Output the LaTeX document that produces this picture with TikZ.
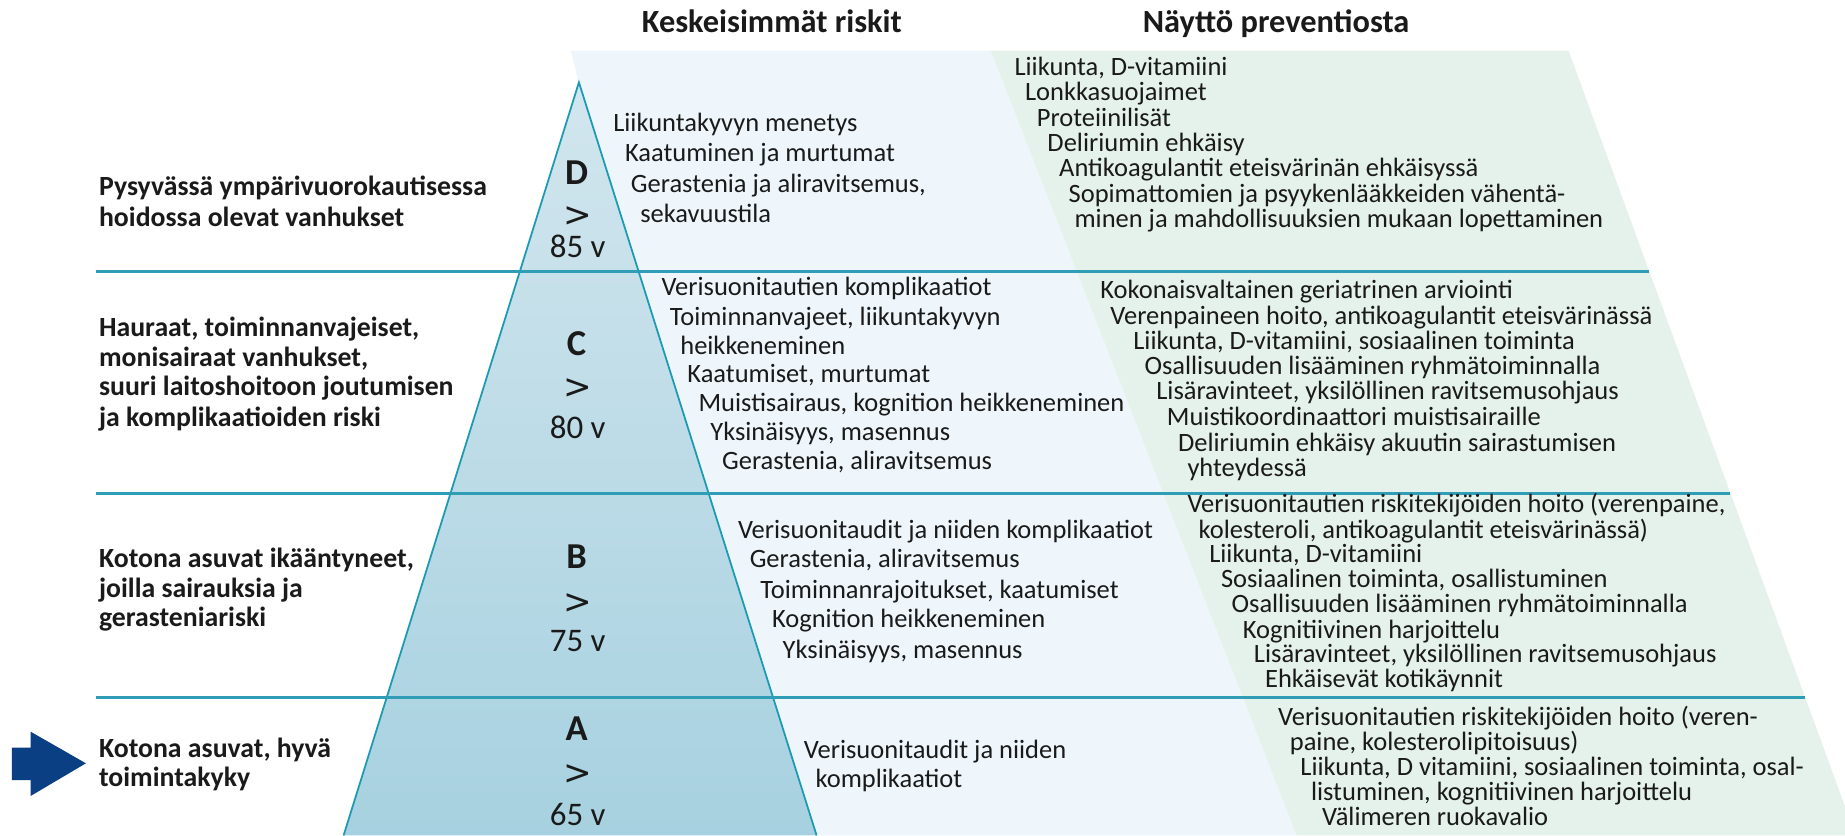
\documentclass[tikz,border=0pt]{standalone}
\usepackage{fontspec}
\setmainfont{Carlito}
\newfontfamily\symfont{DejaVu Sans}
\definecolor{bgBlue}{HTML}{EEF6FB}
\definecolor{bgGreen}{HTML}{E5F1EB}
\definecolor{triTop}{HTML}{D2E6EE}
\definecolor{triBot}{HTML}{A7D1E0}
\definecolor{triEdge}{HTML}{1C9AB2}
\definecolor{lineC}{HTML}{2E9DB5}
\definecolor{arrowC}{HTML}{0B3F83}
\definecolor{txt}{HTML}{1A1A1A}
\tikzset{
  lbl/.style={anchor=mid west, inner sep=0pt, font=\fontsize{23.6}{26}\selectfont\bfseries, text=txt},
  rsk/.style={anchor=mid west, inner sep=0pt, font=\fontsize{22.5}{24}\selectfont, text=txt},
  prv/.style={rsk},
  hdr/.style={anchor=base, inner sep=0pt, font=\fontsize{27.5}{30}\selectfont\bfseries, text=txt},
  lvl/.style={inner sep=0pt, font=\fontsize{31}{33}\selectfont\bfseries, text=txt},
  gt/.style={inner sep=0pt, font=\symfont\fontsize{29}{30}\selectfont, text=txt},
  age/.style={inner sep=0pt, font=\fontsize{28}{30}\selectfont, text=txt},
  band/.style={draw=lineC, line width=2.6pt},
}
\begin{document}
\begin{tikzpicture}[x=1pt,y=-1pt]
\useasboundingbox (0,0) rectangle (1568,710);
\fill[white] (0,0) rectangle (1568,710);
% background bands
\fill[bgBlue] (485,43) -- (842,43) -- (1102,710) -- (694,710) -- (492,70) -- cycle;
\fill[bgGreen] (842,43) -- (1333,43) -- (1577,710) -- (1102,710) -- cycle;
% triangle
\shade[top color=triTop, bottom color=triBot] (492,70) -- (694,710) -- (292,710) -- cycle;
\draw[triEdge, line width=1.5pt, line join=miter] (292,710) -- (492,70) -- (694,710);
% horizontal separators
\draw[band] (82,231) -- (1401.6,231);
\draw[band] (82,419) -- (1470,419);
\draw[band] (82,593) -- (1534,593);
% arrow
\fill[arrowC] (10,635.4) -- (26,635.4) -- (26,621.8) -- (73,648.7) -- (26,676.5) -- (26,663) -- (10,663) -- cycle;
% headers
\node[hdr] (h1) at (656,28) {Keskeisimmät riskit};
\node[hdr] (h2) at (1084.5,28) {Näyttö preventiosta};
% left labels
\node[lbl] (lD1) at (84,164) {Pysyvässä ympärivuorokautisessa};
\node[lbl] (lD2) at (84,190) {hoidossa olevat vanhukset};
\node[lbl] (lC1) at (84,284) {Hauraat, toiminnanvajeiset,};
\node[lbl] (lC2) at (84,309) {monisairaat vanhukset,};
\node[lbl] (lC3) at (84,334) {suuri laitoshoitoon joutumisen};
\node[lbl] (lC4) at (84,360) {ja komplikaatioiden riski};
\node[lbl] (lB1) at (84,480) {Kotona asuvat ikääntyneet,};
\node[lbl] (lB2) at (84,505) {joilla sairauksia ja};
\node[lbl] (lB3) at (84,530) {gerasteniariski};
\node[lbl] (lA1) at (84,641) {Kotona asuvat, hyvä};
\node[lbl] (lA2) at (84,666) {toimintakyky};
% levels in triangle
\node[lvl] (vD) at (490,147) {D};
\node[gt] (gD) at (491,184) {>};
\node[age] (aD) at (491,209.5) {85 v};
\node[lvl] (vC) at (490,292) {C};
\node[gt] (gC) at (491,330) {>};
\node[age] (aC) at (491,363) {80 v};
\node[lvl] (vB) at (490,473.5) {B};
\node[gt] (gB) at (491,513) {>};
\node[age] (aB) at (491,545) {75 v};
\node[lvl] (vA) at (490,619.5) {A};
\node[gt] (gA) at (491,658) {>};
\node[age] (aA) at (491,692) {65 v};
% risks
\node[rsk] (rD1) at (521,109) {Liikuntakyvyn menetys};
\node[rsk] (rD2) at (531,135) {Kaatuminen ja murtumat};
\node[rsk] (rD3) at (536,161) {Gerastenia ja aliravitsemus,};
\node[rsk] (rD4) at (544,187) {sekavuustila};
\node[rsk] (rC1) at (562,249) {Verisuonitautien komplikaatiot};
\node[rsk] (rC2) at (569,274) {Toiminnanvajeet, liikuntakyvyn};
\node[rsk] (rC3) at (578,299) {heikkeneminen};
\node[rsk] (rC4) at (584,323) {Kaatumiset, murtumat};
\node[rsk] (rC5) at (593.5,347) {Muistisairaus, kognition heikkeneminen};
\node[rsk] (rC6) at (603.5,372) {Yksinäisyys, masennus};
\node[rsk] (rC7) at (613.5,397) {Gerastenia, aliravitsemus};
\node[rsk] (rB1) at (627,455) {Verisuonitaudit ja niiden komplikaatiot};
\node[rsk] (rB2) at (637,480) {Gerastenia, aliravitsemus};
\node[rsk] (rB3) at (646,506) {Toiminnanrajoitukset, kaatumiset};
\node[rsk] (rB4) at (656,531) {Kognition heikkeneminen};
\node[rsk] (rB5) at (665,557) {Yksinäisyys, masennus};
\node[rsk] (rA1) at (683,642) {Verisuonitaudit ja niiden};
\node[rsk] (rA2) at (693,667) {komplikaatiot};
% prevention
\node[prv] (pD1) at (862,62) {Liikunta, D-vitamiini};
\node[prv] (pD2) at (871,83) {Lonkkasuojaimet};
\node[prv] (pD3) at (881,105) {Proteiinilisät};
\node[prv] (pD4) at (890,126) {Deliriumin ehkäisy};
\node[prv] (pD5) at (900,148) {Antikoagulantit eteisvärinän ehkäisyssä};
\node[prv] (pD6) at (908,169.5) {Sopimattomien ja psyykenlääkkeiden vähentä-};
\node[prv] (pD7) at (913,191) {minen ja mahdollisuuksien mukaan lopettaminen};
\node[prv] (pC1) at (935,251) {Kokonaisvaltainen geriatrinen arviointi};
\node[prv] (pC2) at (943.5,273) {Verenpaineen hoito, antikoagulantit eteisvärinässä};
\node[prv] (pC3) at (963,295) {Liikunta, D-vitamiini, sosiaalinen toiminta};
\node[prv] (pC4) at (972.5,316) {Osallisuuden lisääminen ryhmätoiminnalla};
\node[prv] (pC5) at (982.5,337.5) {Lisäravinteet, yksilöllinen ravitsemusohjaus};
\node[prv] (pC6) at (991.5,359.5) {Muistikoordinaattori muistisairaille};
\node[prv] (pC7) at (1001,381) {Deliriumin ehkäisy akuutin sairastumisen};
\node[prv] (pC8) at (1009,402.5) {yhteydessä};
\node[prv] (pB1) at (1009,433.5) {Verisuonitautien riskitekijöiden hoito (verenpaine,};
\node[prv] (pB2) at (1018.5,455) {kolesteroli, antikoagulantit eteisvärinässä)};
\node[prv] (pB3) at (1027.5,476) {Liikunta, D-vitamiini};
\node[prv] (pB4) at (1037.5,497) {Sosiaalinen toiminta, osallistuminen};
\node[prv] (pB5) at (1046.5,518.5) {Osallisuuden lisääminen ryhmätoiminnalla};
\node[prv] (pB6) at (1056,540) {Kognitiivinen harjoittelu};
\node[prv] (pB7) at (1065.5,561) {Lisäravinteet, yksilöllinen ravitsemusohjaus};
\node[prv] (pB8) at (1075,582) {Ehkäisevät kotikäynnit};
\node[prv] (pA1) at (1086,614) {Verisuonitautien riskitekijöiden hoito (veren-};
\node[prv] (pA2) at (1096,635.5) {paine, kolesterolipitoisuus)};
\node[prv] (pA3) at (1105,657) {Liikunta, D vitamiini, sosiaalinen toiminta, osal-};
\node[prv] (pA4) at (1114,678) {listuminen, kognitiivinen harjoittelu};
\node[prv] (pA5) at (1123.5,699) {Välimeren ruokavalio};
\end{tikzpicture}
\end{document}
